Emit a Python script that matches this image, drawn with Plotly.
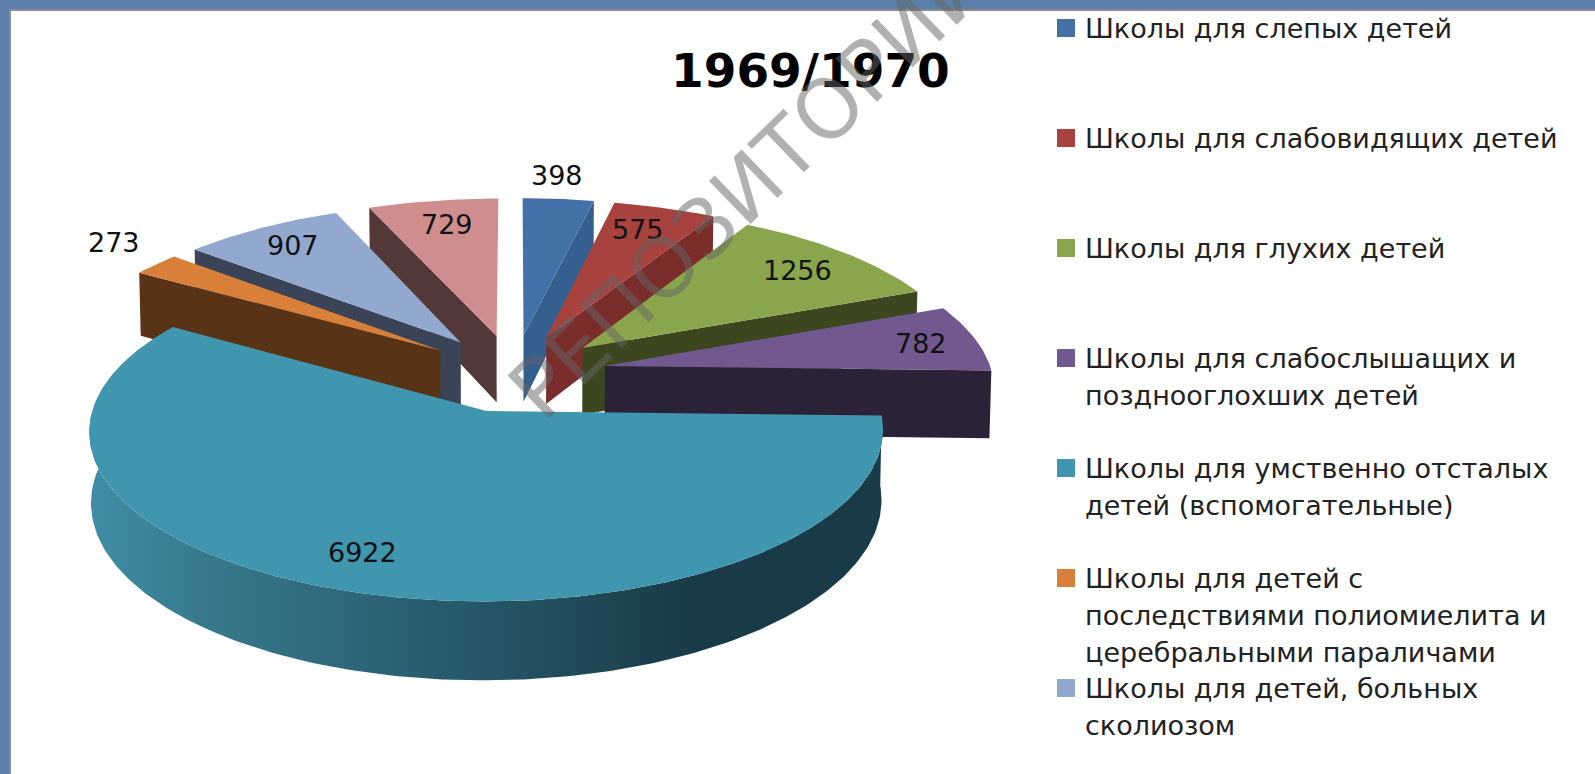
import math
import plotly.graph_objects as go

categories = [
    "Школы для слепых детей",
    "Школы для слабовидящих детей",
    "Школы для глухих детей",
    "Школы для слабослышащих и<br>позднооглохших детей",
    "Школы для умственно отсталых<br>детей (вспомогательные)",
    "Школы для детей с<br>последствиями полиомиелита и<br>церебральными параличами",
    "Школы для детей, больных<br>сколиозом",
    "Другие школы",
]
values = [398, 575, 1256, 782, 6922, 273, 907, 729]
top_colors = ["#4472a8", "#a8423f", "#8aa64c", "#71588f", "#4096ae", "#d8803a", "#93a8cf", "#cf8d8d"]
side_colors = ["#355f8e", "#7a2d2b", "#3c4720", "#2c2238", "#193b47", "#593316", "#3a4456", "#533838"]
title_text = "1969/1970"
watermark = "РЕПОЗИТОРИЙ"
label_xy = [(557, 175), (638, 229), (797, 270), (921, 343), (362, 552), (114, 242), (293, 245), (447, 224)]
legend_rows = [28, 138, 248, 358, 468, 578, 688]
draw_order = [0, 1, 2, 3, 7, 6, 5, 4]

W, H = 1595, 774
CX, CY, A, B, K, DEPTH, EXPL, NARROW = 514, 373, 387, 161, 0.1136, 68, 0.24, 0.004
BIG_SLICE_RADIUS = 0.992
FONT = "DejaVu Sans"


def project(u, v, z):
    s = 1 / (1 + K * v)
    return CX + A * u * s * (1 - NARROW * z), CY - B * v * s + DEPTH * s * z


def point(theta, r, mid, z):
    return project(EXPL * math.sin(mid) + r * math.sin(theta),
                   EXPL * math.cos(mid) + r * math.cos(theta), z)


def poly(points, color, name, gradient=None):
    xs = [p[0] for p in points] + [points[0][0]]
    ys = [p[1] for p in points] + [points[0][1]]
    kw = dict(fillgradient=gradient) if gradient else dict(fillcolor=color)
    return go.Scatter(x=xs, y=ys, mode="lines", fill="toself", line=dict(width=0, color=color),
                      name=name, hoverinfo="name", showlegend=False, **kw)


total = sum(values)
angles = [0.0]
for val in values:
    angles.append(angles[-1] + val / total * 2 * math.pi)

fig = go.Figure()
teal_gradient = dict(type="horizontal", colorscale=[
    [0.0, "#3f8ea6"], [0.15, "#37798c"], [0.38, "#2b6274"], [0.6, "#214c5a"], [0.76, "#193b47"], [1.0, "#193b47"]])

for i in draw_order:
    t0, t1 = angles[i], angles[i + 1]
    mid = (t0 + t1) / 2
    n = max(4, int((t1 - t0) * 60))
    arc = [t0 + (t1 - t0) * j / n for j in range(n + 1)]
    name = categories[i].replace("<br>", " ")
    r = BIG_SLICE_RADIUS if i == 4 else 1
    # radial cut face that looks towards the viewer
    if i != 4:
        th = t1 if math.sin(mid) > 0 else t0
        fig.add_trace(poly([point(th, 0, mid, 0), point(th, r, mid, 0),
                            point(th, r, mid, 1), point(th, 0, mid, 1)], side_colors[i], name))
    # outer wall of the big front slice
    if i == 4:
        wall = [point(t, r, mid, 0) for t in arc] + [point(t, r, mid, 1) for t in reversed(arc)]
        fig.add_trace(poly(wall, side_colors[i], name, gradient=teal_gradient))
    top = [point(0, 0, mid, 0)] + [point(t, r, mid, 0) for t in arc]
    fig.add_trace(poly(top, top_colors[i], name))

# legend swatches
n_rows = len(legend_rows)
fig.add_trace(go.Scatter(x=[1066] * n_rows, y=legend_rows, mode="markers",
                         marker=dict(symbol="square", size=18, color=top_colors[:n_rows]),
                         hoverinfo="skip", showlegend=False))

annotations = []
for (lx, ly), val in zip(label_xy, values):
    annotations.append(dict(x=lx, y=ly, text=str(val), showarrow=False, xanchor="center", yanchor="middle",
                            font=dict(family=FONT, size=27, color="#111111")))
for row, cat in zip(legend_rows, categories):
    for j, line in enumerate(cat.split("<br>")):
        annotations.append(dict(x=1083, y=row + j * 37, text=line, showarrow=False, xanchor="left", yanchor="middle",
                                font=dict(family=FONT, size=27, color="#222222")))
annotations.append(dict(x=810, y=70, text=title_text, showarrow=False, xanchor="center", yanchor="middle",
                        font=dict(family="DejaVu Sans", size=47, color="#000000", weight="bold")))
annotations.append(dict(x=749, y=185, text=watermark, showarrow=False, xanchor="center", yanchor="middle",
                        textangle=-44, font=dict(family="DejaVu Sans", size=82, color="rgba(100,100,100,0.5)")))

fig.update_layout(
    width=W, height=H, autosize=False,
    margin=dict(l=0, r=0, t=0, b=0),
    paper_bgcolor="#5c80a9", plot_bgcolor="rgba(0,0,0,0)",
    xaxis=dict(range=[0, W], visible=False, fixedrange=True),
    yaxis=dict(range=[H, 0], visible=False, fixedrange=True),
    showlegend=False,
    shapes=[dict(type="rect", x0=10, y0=10, x1=W + 5, y1=H + 5, layer="below",
                 fillcolor="#ffffff", line=dict(color="#8c8c8c", width=2))],
    annotations=annotations,
)
fig.write_html("out.html", config=dict(displayModeBar=False),
               post_script="document.body.style.margin='0';document.body.style.overflow='hidden';")
